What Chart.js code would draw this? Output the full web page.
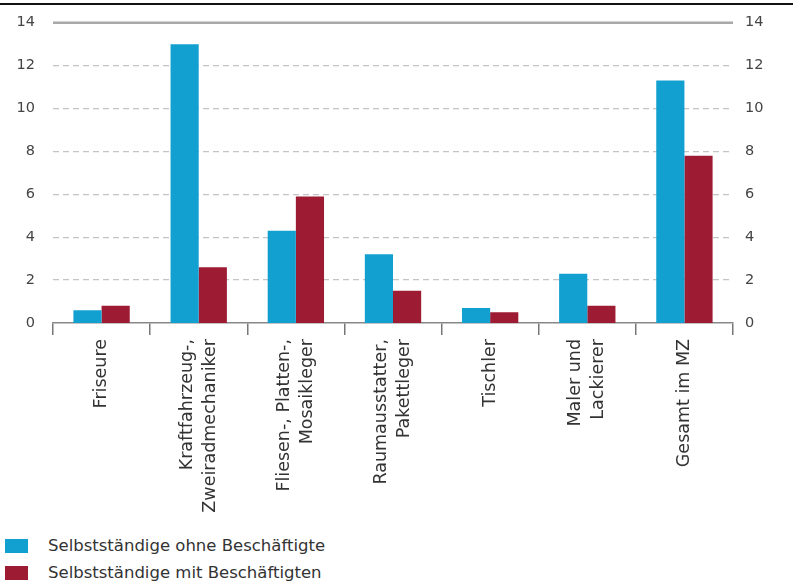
<!DOCTYPE html>
<html lang="de">
<head>
  <meta charset="UTF-8" />
  <title>Selbstständige</title>
  <script src="https://cdn.jsdelivr.net/npm/chart.js"></script>
  <style>
    body {
      margin: 0;
      background: #fff;
      font-family: 'DejaVu Sans', sans-serif;
      color: #333;
      width: 793px;
      height: 585px;
      overflow: hidden;
      position: relative;
    }
    #topline {
      position: absolute;
      left: 0;
      top: 3px;
      width: 793px;
      height: 2px;
      background: #111;
      z-index: 2;
    }
    #wrap {
      position: absolute;
      left: 0;
      top: -4px;
      width: 793px;
      height: 525px;
    }
    #legend {
      position: absolute;
      left: 5px;
      top: 532px;
      font-size: 16.5px;
    }
    .item {
      display: flex;
      align-items: center;
      height: 27px;
    }
    .sw {
      width: 23px;
      height: 14px;
      margin-right: 20px;
    }
  </style>
</head>
<body>

<div id="topline"></div>
<div id="wrap"><canvas id="chart"></canvas></div>
<div id="legend"></div>

<script>
const categories = [
  'Friseure',
  ['Kraftfahrzeug-,', 'Zweiradmechaniker'],
  ['Fliesen-, Platten-,', 'Mosaikleger'],
  ['Raumausstatter,', 'Pakettleger'],
  'Tischler',
  ['Maler und', 'Lackierer'],
  'Gesamt im MZ'
];
const seriesNames = ['Selbstständige ohne Beschäftigte', 'Selbstständige mit Beschäftigten'];
const ohneBeschaeftigte = [0.6, 13.0, 4.3, 3.2, 0.7, 2.3, 11.3];
const mitBeschaeftigten = [0.8, 2.6, 5.9, 1.5, 0.5, 0.8, 7.8];
const colors = ['#12a0d0', '#9e1b34'];
const yMax = 14;

const labelSize = 17.5;
const labelLine = 1.3;

Chart.defaults.font.family = "'DejaVu Sans', sans-serif";
Chart.defaults.color = '#333';

// solid line at the top of the scale
const topLine = {
  id: 'topLine',
  beforeDatasetsDraw(chart) {
    const y = chart.scales.y.getPixelForValue(yMax);
    const ctx = chart.ctx;
    ctx.save();
    ctx.strokeStyle = '#a8a8a8';
    ctx.lineWidth = 2.5;
    ctx.beginPath();
    ctx.moveTo(chart.chartArea.left, y);
    ctx.lineTo(chart.chartArea.right, y);
    ctx.stroke();
    ctx.restore();
  }
};

// center the two-line category labels on their tick
const centerLabels = {
  id: 'centerLabels',
  beforeDraw(chart) {
    const items = chart.scales.x.getLabelItems();
    if (items._centered) return;
    items.forEach(it => {
      const n = Array.isArray(it.label) ? it.label.length : 1;
      it.options.translation[0] -= (n - 1) * labelSize * labelLine / 2;
    });
    items._centered = true;
  }
};

const yTicks = {
  stepSize: 2,
  font: { size: 14.5 },
  color: '#444'
};

new Chart(document.getElementById('chart'), {
  type: 'bar',
  data: {
    labels: categories,
    datasets: [
      { label: seriesNames[0], data: ohneBeschaeftigte, backgroundColor: colors[0] },
      { label: seriesNames[1], data: mitBeschaeftigten, backgroundColor: colors[1] }
    ]
  },
  options: {
    responsive: true,
    maintainAspectRatio: false,
    animation: false,
    categoryPercentage: 0.58,
    barPercentage: 1,
    layout: { padding: { top: 17, bottom: 0, left: 0, right: 0 } },
    plugins: {
      legend: { display: false },
      tooltip: { enabled: false }
    },
    scales: {
      x: {
        grid: {
          offset: true,
          drawOnChartArea: false,
          drawTicks: true,
          tickLength: 12,
          color: '#777',
          lineWidth: 1.5
        },
        border: { display: true, color: '#888', width: 1.5 },
        ticks: {
          minRotation: 90,
          maxRotation: 90,
          padding: 4,
          font: { size: labelSize, lineHeight: labelLine },
          color: '#333'
        },
        afterFit(scale) { scale.height = 198; }
      },
      y: {
        position: 'left',
        min: 0,
        max: yMax,
        ticks: Object.assign({ padding: 18 }, yTicks),
        grid: {
          drawTicks: false,
          color: '#c4c4c4',
          lineWidth: ctx => (ctx.tick.value === 0 || ctx.tick.value === yMax) ? 0 : 1.3
        },
        border: { display: false, dash: [6, 4] },
        afterFit(scale) { scale.width = 53; }
      },
      y2: {
        position: 'right',
        min: 0,
        max: yMax,
        ticks: Object.assign({ padding: 12 }, yTicks),
        grid: { drawOnChartArea: false, drawTicks: false },
        border: { display: false },
        afterFit(scale) { scale.width = 60; }
      }
    }
  },
  plugins: [topLine, centerLabels]
});

// legend below the chart
const legend = document.getElementById('legend');
seriesNames.forEach((name, i) => {
  const row = document.createElement('div');
  row.className = 'item';
  row.innerHTML = `<span class="sw" style="background:${colors[i]}"></span><span>${name}</span>`;
  legend.appendChild(row);
});
</script>

</body>
</html>
